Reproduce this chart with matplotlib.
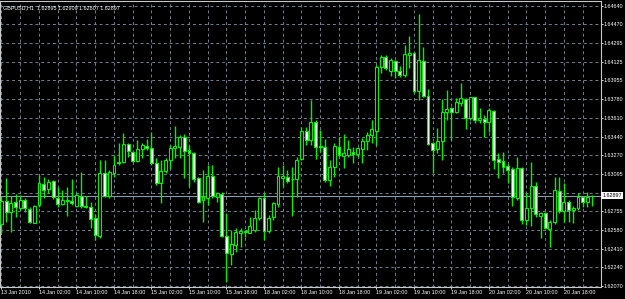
import numpy as np
import matplotlib.pyplot as plt

plt.rcParams['font.family'] = ['Liberation Sans', 'DejaVu Sans']

symbol = 'GBPUSD,H1'
last_ohlc = ['1.62895', '1.62909', '1.62807', '1.62897']
last_price = 1.62897

# hourly candles, 13 Jan 2010 18:00 .. 20 Jan 2010 ~22:00
opens = [
    1.62639, 1.62852, 1.62751, 1.62838, 1.62782, 1.62859, 1.62779, 1.62650, 1.62813, 1.63005,
    1.62957, 1.63033, 1.62880, 1.62819, 1.62856, 1.62849, 1.62804, 1.62898, 1.62804, 1.62792,
    1.62691, 1.62529, 1.63109, 1.62895, 1.63109, 1.63195, 1.63210, 1.63369, 1.63296, 1.63219,
    1.63323, 1.63354, 1.63333, 1.63201, 1.63012, 1.63124, 1.63225, 1.63338, 1.63347, 1.63433,
    1.63317, 1.63287, 1.63058, 1.62859, 1.62874, 1.63079, 1.62889, 1.62914, 1.62531, 1.62363,
    1.62446, 1.62559, 1.62570, 1.62559, 1.62584, 1.62691, 1.62874, 1.62577, 1.62700, 1.62822,
    1.63060, 1.63072, 1.63047, 1.63048, 1.63232, 1.63491, 1.63409, 1.63571, 1.63342, 1.63342,
    1.63042, 1.63164, 1.63347, 1.63265, 1.63271, 1.63301, 1.63280, 1.63329, 1.63402, 1.63452,
    1.63494, 1.64081, 1.64172, 1.64041, 1.64133, 1.64044, 1.64005, 1.64185, 1.64204, 1.63858,
    1.64136, 1.63815, 1.63378, 1.63323, 1.63400, 1.63663, 1.63699, 1.63668, 1.63745, 1.63785,
    1.63613, 1.63801, 1.63592, 1.63604, 1.63571, 1.63675, 1.63232, 1.63219, 1.63173, 1.63143,
    1.62874, 1.63149, 1.62675, 1.62788, 1.62987, 1.62715, 1.62737, 1.62590, 1.62654, 1.62944,
    1.62758, 1.62843, 1.62767, 1.62782, 1.62889, 1.62838, 1.62895]
highs = [
    1.62895, 1.63060, 1.62895, 1.62911, 1.62904, 1.62874, 1.62797, 1.62813, 1.63088, 1.63072,
    1.63048, 1.63042, 1.62981, 1.62950, 1.62975, 1.63048, 1.62920, 1.63118, 1.62895, 1.62843,
    1.62730, 1.63225, 1.63225, 1.63134, 1.63271, 1.63378, 1.63470, 1.63378, 1.63301, 1.63409,
    1.63378, 1.63415, 1.63485, 1.63241, 1.63225, 1.63241, 1.63363, 1.63537, 1.63455, 1.63464,
    1.63363, 1.63301, 1.63067, 1.63134, 1.63179, 1.63179, 1.62935, 1.62935, 1.62737, 1.62584,
    1.62599, 1.62599, 1.62584, 1.62705, 1.62767, 1.62889, 1.62920, 1.62721, 1.62843, 1.63158,
    1.63179, 1.63134, 1.63158, 1.63256, 1.63531, 1.63531, 1.63775, 1.63592, 1.63500, 1.63415,
    1.63225, 1.63378, 1.63433, 1.63464, 1.63409, 1.63347, 1.63347, 1.63424, 1.63485, 1.63592,
    1.64096, 1.64188, 1.64188, 1.64158, 1.64142, 1.64087, 1.64280, 1.64362, 1.64218, 1.64564,
    1.64264, 1.63874, 1.63390, 1.63516, 1.63782, 1.63867, 1.63711, 1.63791, 1.63934, 1.63791,
    1.63806, 1.63806, 1.63699, 1.63638, 1.63699, 1.63684, 1.63287, 1.63301, 1.63186, 1.63164,
    1.63250, 1.63164, 1.62920, 1.63210, 1.63026, 1.62751, 1.62751, 1.62675, 1.63072, 1.63072,
    1.63012, 1.62859, 1.62804, 1.62920, 1.62895, 1.62935, 1.62909]
lows = [
    1.62556, 1.62660, 1.62568, 1.62705, 1.62767, 1.62751, 1.62645, 1.62645, 1.62797, 1.62874,
    1.62920, 1.62865, 1.62797, 1.62813, 1.62712, 1.62813, 1.62797, 1.62782, 1.62782, 1.62599,
    1.62492, 1.62507, 1.62883, 1.62874, 1.63072, 1.63179, 1.63195, 1.63256, 1.63210, 1.63210,
    1.63241, 1.63317, 1.63179, 1.62996, 1.62834, 1.63103, 1.63140, 1.63241, 1.63241, 1.63058,
    1.62975, 1.63026, 1.62828, 1.62660, 1.62813, 1.62874, 1.62843, 1.62522, 1.62110, 1.62263,
    1.62385, 1.62430, 1.62522, 1.62553, 1.62568, 1.62675, 1.62492, 1.62553, 1.62675, 1.62797,
    1.62981, 1.63012, 1.62712, 1.62889, 1.63225, 1.63363, 1.63363, 1.63232, 1.63301, 1.63026,
    1.62990, 1.63072, 1.63256, 1.63149, 1.63250, 1.63195, 1.63256, 1.63195, 1.63317, 1.63378,
    1.63363, 1.64026, 1.64050, 1.63995, 1.63974, 1.63989, 1.63989, 1.64066, 1.63842, 1.63775,
    1.63806, 1.63363, 1.63103, 1.63287, 1.63225, 1.63592, 1.63409, 1.63654, 1.63720, 1.63507,
    1.63592, 1.63562, 1.63562, 1.63439, 1.63485, 1.63140, 1.63058, 1.63103, 1.63012, 1.62804,
    1.62859, 1.62639, 1.62629, 1.62620, 1.62705, 1.62507, 1.62590, 1.62430, 1.62639, 1.62737,
    1.62660, 1.62660, 1.62650, 1.62767, 1.62792, 1.62792, 1.62807]
closes = [
    1.62849, 1.62751, 1.62834, 1.62797, 1.62859, 1.62782, 1.62660, 1.62804, 1.63012, 1.62950,
    1.63026, 1.62883, 1.62822, 1.62859, 1.62851, 1.62828, 1.62904, 1.62806, 1.62792, 1.62682,
    1.62538, 1.63109, 1.62898, 1.63113, 1.63179, 1.63210, 1.63372, 1.63311, 1.63219, 1.63323,
    1.63363, 1.63335, 1.63201, 1.63012, 1.63124, 1.63225, 1.63338, 1.63354, 1.63439, 1.63311,
    1.63287, 1.63048, 1.62843, 1.62889, 1.63079, 1.62895, 1.62920, 1.62531, 1.62370, 1.62455,
    1.62568, 1.62574, 1.62574, 1.62620, 1.62691, 1.62874, 1.62577, 1.62691, 1.62828, 1.63079,
    1.63079, 1.63036, 1.63051, 1.63225, 1.63491, 1.63409, 1.63571, 1.63342, 1.63354, 1.63042,
    1.63164, 1.63354, 1.63271, 1.63287, 1.63323, 1.63278, 1.63333, 1.63402, 1.63455, 1.63507,
    1.64081, 1.64172, 1.64066, 1.64142, 1.64041, 1.64005, 1.64197, 1.64204, 1.63858, 1.64142,
    1.63815, 1.63372, 1.63317, 1.63400, 1.63668, 1.63690, 1.63668, 1.63754, 1.63791, 1.63613,
    1.63801, 1.63592, 1.63608, 1.63571, 1.63684, 1.63225, 1.63210, 1.63164, 1.63134, 1.62889,
    1.63155, 1.62675, 1.62788, 1.62987, 1.62730, 1.62742, 1.62599, 1.62654, 1.62950, 1.62758,
    1.62843, 1.62767, 1.62788, 1.62883, 1.62838, 1.62889, 1.62897]

time_labels = ['13 Jan 2010', '14 Jan 02:00', '14 Jan 10:00', '14 Jan 18:00', '15 Jan 02:00',
               '15 Jan 10:00', '15 Jan 18:00', '18 Jan 02:00', '18 Jan 10:00', '18 Jan 18:00',
               '19 Jan 02:00', '19 Jan 10:00', '19 Jan 18:00', '20 Jan 02:00', '20 Jan 10:00',
               '20 Jan 18:00']
price_labels = ['1.62070', '1.62240', '1.62410', '1.62580', '1.62755', '', '1.63095', '1.63270',
                '1.63440', '1.63610', '1.63780', '1.63955', '1.64125', '1.64295', '1.64470', '1.64640']

o = np.array(opens)
h = np.array(highs)
l = np.array(lows)
c = np.array(closes)
x = np.arange(len(o))
up = c >= o

green = '#00f000'
gridc = '#6f8090'
fs = 3.9

fig = plt.figure(figsize=(6.25, 2.99), dpi=100, facecolor='black')
ax = fig.add_axes([0, 12.5 / 299, 600.5 / 625, 286 / 299])
ax.set_facecolor('black')

ax.vlines(x, l, h, color=green, lw=1, zorder=3)
ax.bar(x, np.abs(c - o), bottom=np.minimum(o, c), width=0.62,
       color=np.where(up, 'black', 'white'), edgecolor=green, linewidth=0.8, zorder=4)

ax.set_xlim(-0.32, 127.8)
ax.set_ylim(1.62066, 1.64688)

# price scale on the right
yt = np.linspace(float(price_labels[0]), float(price_labels[-1]), len(price_labels))
ax.set_yticks(yt)
ax.set_yticklabels(price_labels)
ax.yaxis.tick_right()

ax.set_xticks(np.arange(0, len(x), 8))
ax.set_xticklabels(time_labels, ha='left')
ax.set_xticks(np.arange(0, len(x), 4), minor=True)

ax.tick_params(axis='both', colors='white', labelsize=fs, length=1.5, width=0.6, pad=1)
ax.tick_params(axis='x', which='minor', length=0)
ax.grid(True, which='both', axis='x', color=gridc, linestyle=(0, (3, 3)), linewidth=0.7)
ax.grid(True, which='major', axis='y', color=gridc, linestyle=(0, (3, 3)), linewidth=0.7)
ax.set_axisbelow(True)

for s in ax.spines.values():
    s.set_color('#c8c8c8')
    s.set_linewidth(0.8)

# current price line and marker
ax.axhline(last_price, color='#8a9aab', lw=0.8, zorder=2)
ax.text(1.003, last_price, f'{last_price:.5f}', transform=ax.get_yaxis_transform(),
        va='center', ha='left', fontsize=fs, color='black', clip_on=False,
        bbox=dict(boxstyle='square,pad=0.2', fc='white', ec='none'))

ax.text(0.005, 0.985, symbol + '  ' + ' '.join(last_ohlc), transform=ax.transAxes,
        color='white', fontsize=fs, va='top', ha='left')

fig.savefig('out.png', dpi=100, facecolor='black')
